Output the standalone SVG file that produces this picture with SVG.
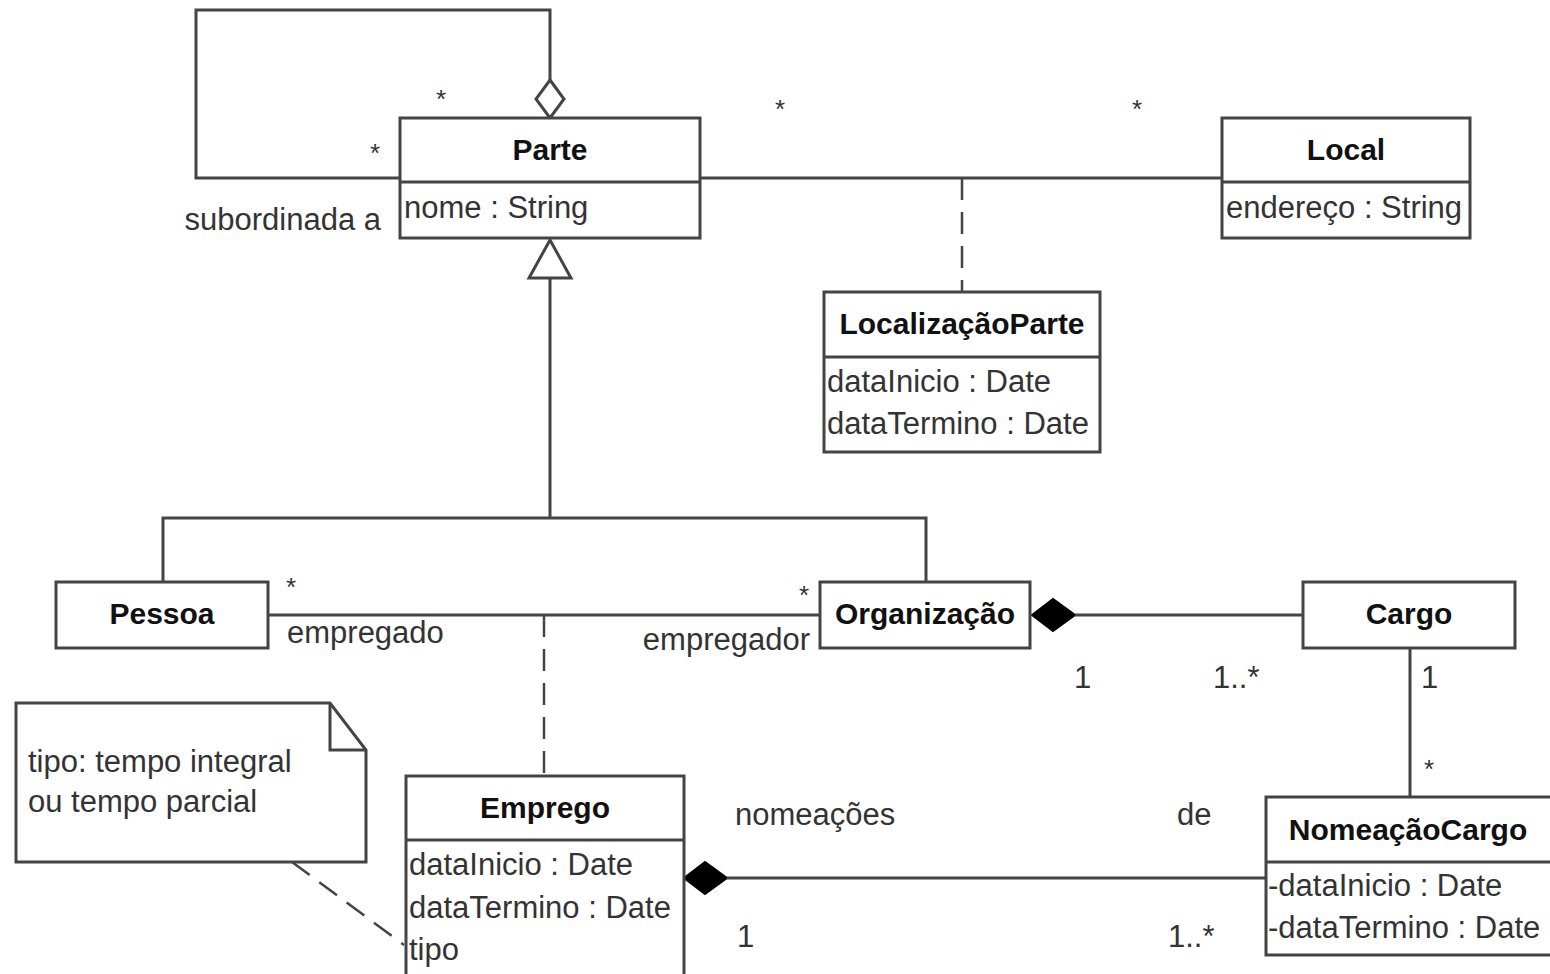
<svg xmlns="http://www.w3.org/2000/svg" width="1550" height="974" viewBox="0 0 1550 974">
<style>
  .box{fill:#fff;stroke:#444;stroke-width:3}
  .div{stroke:#444;stroke-width:3}
  .ln{fill:none;stroke:#444;stroke-width:3}
  .dash{fill:none;stroke:#444;stroke-width:2.5;stroke-dasharray:22,12}
  .t{font-family:"Liberation Sans",Arial,sans-serif;font-size:31px;fill:#333}
  .b{font-family:"Liberation Sans",Arial,sans-serif;font-size:30px;font-weight:bold;fill:#111;text-anchor:middle}
  .s{font-family:"Liberation Sans",Arial,sans-serif;font-size:26px;fill:#333}
</style>
<rect width="1550" height="974" fill="#fff"/>

<g id="connectors">
  <polyline class="ln" points="400,178 196,178 196,10 550,10 550,80"/>
  <polygon points="550,80 564,99 550,118 536,99" fill="#fff" stroke="#444" stroke-width="3"/>
  <line class="ln" x1="700" y1="178" x2="1222" y2="178"/>
  <line class="dash" x1="962" y1="178" x2="962" y2="292"/>
  <polygon points="550,240 571,278 529,278" fill="#fff" stroke="#444" stroke-width="3"/>
  <polyline class="ln" points="550,278 550,518"/>
  <polyline class="ln" points="163,582 163,518 926,518 926,582"/>
  <line class="ln" x1="268" y1="615" x2="820" y2="615"/>
  <line class="dash" x1="544" y1="615" x2="544" y2="776"/>
  <polygon points="1032,615 1053,599 1075,615 1053,631" fill="#000" stroke="#000" stroke-width="2"/>
  <line class="ln" x1="1075" y1="615" x2="1303" y2="615"/>
  <line class="ln" x1="1410" y1="648" x2="1410" y2="797"/>
  <polygon points="684,878 705,862 727,878 705,894" fill="#000" stroke="#000" stroke-width="2"/>
  <line class="ln" x1="727" y1="878" x2="1266" y2="878"/>
  <line class="dash" x1="292" y1="862" x2="404" y2="945"/>

  <text class="s" x="436" y="108">*</text>
  <text class="s" x="370" y="162">*</text>
  <text class="t" x="381" y="230" text-anchor="end">subordinada a</text>
  <text class="s" x="775" y="118">*</text>
  <text class="s" x="1132" y="118">*</text>
  <text class="s" x="286" y="596">*</text>
  <text class="t" x="287" y="643">empregado</text>
  <text class="s" x="799" y="604">*</text>
  <text class="t" x="810" y="650" text-anchor="end">empregador</text>
  <text class="t" x="1074" y="688">1</text>
  <text class="t" x="1213" y="688">1..*</text>
  <text class="t" x="1421" y="688">1</text>
  <text class="s" x="1424" y="778">*</text>
  <text class="t" x="735" y="825">nomeações</text>
  <text class="t" x="1177" y="825">de</text>
  <text class="t" x="737" y="947">1</text>
  <text class="t" x="1168" y="947">1..*</text>
</g>

<g id="parte">
  <rect class="box" x="400" y="118" width="300" height="120"/>
  <line class="div" x1="400" y1="182" x2="700" y2="182"/>
  <text class="b" x="550" y="160">Parte</text>
  <text class="t" x="404" y="218">nome : String</text>
</g>

<g id="local">
  <rect class="box" x="1222" y="118" width="248" height="120"/>
  <line class="div" x1="1222" y1="182" x2="1470" y2="182"/>
  <text class="b" x="1346" y="160">Local</text>
  <text class="t" x="1226" y="218">endereço : String</text>
</g>

<g id="localizacaoparte">
  <rect class="box" x="824" y="292" width="276" height="160"/>
  <line class="div" x1="824" y1="357" x2="1100" y2="357"/>
  <text class="b" x="962" y="334">LocalizaçãoParte</text>
  <text class="t" x="827" y="392">dataInicio : Date</text>
  <text class="t" x="827" y="434">dataTermino : Date</text>
</g>

<g id="pessoa">
  <rect class="box" x="56" y="582" width="212" height="66"/>
  <text class="b" x="162" y="624">Pessoa</text>
</g>

<g id="organizacao">
  <rect class="box" x="820" y="582" width="210" height="66"/>
  <text class="b" x="925" y="624">Organização</text>
</g>

<g id="cargo">
  <rect class="box" x="1303" y="582" width="212" height="66"/>
  <text class="b" x="1409" y="624">Cargo</text>
</g>

<g id="emprego">
  <rect class="box" x="406" y="776" width="278" height="200"/>
  <line class="div" x1="406" y1="840" x2="684" y2="840"/>
  <text class="b" x="545" y="818">Emprego</text>
  <text class="t" x="409" y="875">dataInicio : Date</text>
  <text class="t" x="409" y="918">dataTermino : Date</text>
  <text class="t" x="409" y="960">tipo</text>
</g>

<g id="nomeacaocargo">
  <rect class="box" x="1266" y="797" width="290" height="158"/>
  <line class="div" x1="1266" y1="862" x2="1556" y2="862"/>
  <text class="b" x="1408" y="840">NomeaçãoCargo</text>
  <text class="t" x="1268" y="896">-dataInicio : Date</text>
  <text class="t" x="1268" y="938">-dataTermino : Date</text>
</g>

<g id="note">
  <polygon points="16,703 330,703 366,750 366,862 16,862" fill="#fff" stroke="#444" stroke-width="3"/>
  <polyline class="ln" points="330,703 330,750 366,750"/>
  <text class="t" x="28" y="772">tipo: tempo integral</text>
  <text class="t" x="28" y="812">ou tempo parcial</text>
</g>
</svg>
